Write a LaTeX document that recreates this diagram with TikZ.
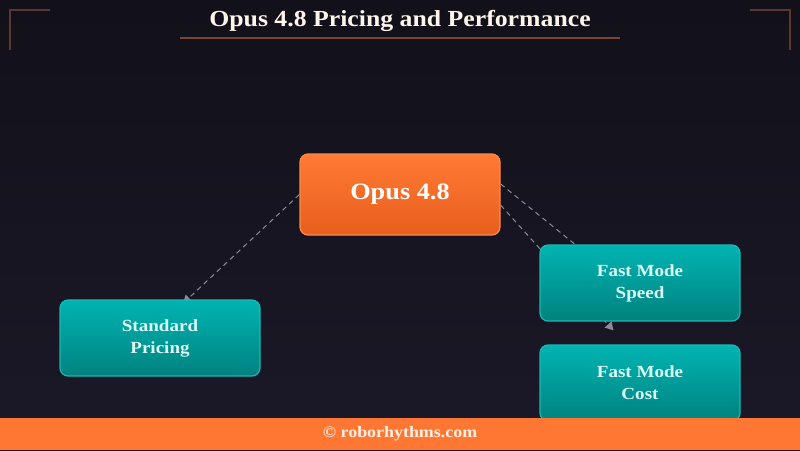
\documentclass[tikz,border=0pt]{standalone}
\usepackage{fontspec}
\setmainfont{Liberation Serif}[FakeStretch=1.12]
\usetikzlibrary{calc, arrows.meta}

\definecolor{bgtop}{HTML}{121019}
\definecolor{bgbot}{HTML}{1B1928}
\definecolor{frame}{HTML}{5A3830}
\definecolor{rulecol}{HTML}{7E4232}
\definecolor{orangetop}{HTML}{FF7A35}
\definecolor{orangebot}{HTML}{E85E1C}
\definecolor{orangeedge}{HTML}{FF8A4A}
\definecolor{tealtop}{HTML}{00B4B2}
\definecolor{tealbot}{HTML}{00827F}
\definecolor{tealedge}{HTML}{19B8B5}
\definecolor{tealtext}{HTML}{DDF9F7}
\definecolor{linkgrey}{HTML}{8A8A98}
\definecolor{footcol}{HTML}{FF7733}

\pgfdeclarelayer{bg}
\pgfdeclarelayer{links}
\pgfsetlayers{bg,links,main}

\begin{document}
\begin{tikzpicture}[x=1pt,y=-1pt,
		box/.style = {draw,rounded corners=8pt,align=center,inner sep=0pt,
			minimum width=200pt,minimum height=76pt,line width=1.2pt,
			font=\bfseries\fontsize{17}{22}\selectfont},
		opusbox/.style = {box,minimum height=81pt,draw=orangeedge,
			top color=orangetop,bottom color=orangebot,text=white,
			font=\bfseries\fontsize{23.5}{26}\selectfont},
		tealbox/.style = {box,draw=tealedge,top color=tealtop,bottom color=tealbot,text=tealtext},
		link/.style = {draw=linkgrey,line width=1pt,dash pattern=on 5pt off 4pt,
			-{Triangle[length=8pt,width=9pt]}},
		corner/.style = {draw=frame,line width=1.5pt},
		heading/.style = {text=white!92!orange,font=\bfseries\fontsize{23}{26}\selectfont}]

	\begin{pgfonlayer}{bg}
		\fill[top color=bgtop,bottom color=bgbot] (0,0) rectangle (800,450);
	\end{pgfonlayer}

	% frame corners and title
	\draw[corner] (10,50) -- (10,10) -- (50,10);
	\draw[corner] (750,10) -- (790,10) -- (790,50);
	\node[heading] (title) at (400,21) {Opus 4.8 Pricing and Performance};
	\draw[draw=rulecol,line width=1.5pt] (180,38) -- (620,38);

	\node[opusbox] (opus) at (400,194.5) {Opus 4.8};
	\node[tealbox] (std) at (160,338) {Standard\\Pricing};
	\node[tealbox] (speed) at (640,283) {Fast Mode\\Speed};
	\node[tealbox] (cost) at (640,383) {Fast Mode\\Cost};

	\begin{pgfonlayer}{links}
		\draw[link] (opus.west) -- ($(std.56)+(-3,4)$);
		\draw[link] (opus.6) -- ($(speed.north west)+(48,10)$);
		\draw[link] (opus.-6) -- ($(cost.north west)+(74,-14)$);
	\end{pgfonlayer}

	% footer
	\fill[footcol] (0,418) rectangle (800,450);
	\node[text=white!90!orange,font=\bfseries\fontsize{16}{18}\selectfont] (foot) at (400,434) {© roborhythms.com};
\end{tikzpicture}
\end{document}
